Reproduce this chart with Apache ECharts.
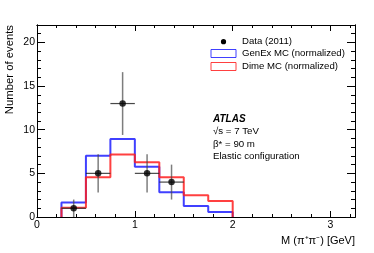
<!DOCTYPE html>
<html>
<head>
<meta charset="utf-8">
<script src="https://cdn.jsdelivr.net/npm/echarts@6/dist/echarts.min.js"></script>
<style>html,body{margin:0;padding:0;background:#fff}#c{width:374px;height:253px}</style>
</head>
<body>
<div id="c"></div>
<script>
// ---- data ----
const binEdges = [0.25, 0.5, 0.75, 1.0, 1.25, 1.5, 1.75, 2.0];
const genexValues = [1.65, 7.03, 8.94, 5.77, 2.83, 1.26, 0.57];
const dimeValues = [1.07, 4.55, 7.15, 6.27, 4.55, 2.5, 1.83];
const dataX = [0.375, 0.625, 0.875, 1.125, 1.375];
const dataY = [1, 5, 13, 5, 4];
const dataErrY = [1.0, 2.2, 3.6, 2.2, 2.0];
const dataErrX = [0.125, 0.125, 0.125, 0.125, 0.125];
const xTickLabels = ['0', '1', '2', '3'];
const yTickLabels = ['0', '5', '10', '15', '20'];

function stepPoints(edges, vals) {
  const pts = [[edges[0], 0]];
  for (let i = 0; i < vals.length; i++) {
    pts.push([edges[i], vals[i]], [edges[i + 1], vals[i]]);
  }
  pts.push([edges[edges.length - 1], 0]);
  return pts;
}

const FONT = 'Liberation Sans';
const X_MIN = 0, X_MAX = 3.25, Y_MIN = 0, Y_MAX = 22;

function xAx(pos, interval, len, labels) {
  return {
    type: 'value', position: pos, min: X_MIN, max: X_MAX, interval: interval,
    axisLine: { show: true, onZero: false, lineStyle: { color: '#000', width: 1 } },
    axisTick: { show: true, inside: true, length: len, lineStyle: { color: '#000', width: 1 } },
    axisLabel: labels ? {
      show: true, margin: 3, color: '#000', fontFamily: FONT, fontSize: 10.5,
      formatter: v => xTickLabels.includes(String(v)) ? String(v) : ''
    } : { show: false },
    splitLine: { show: false }
  };
}
function yAx(pos, interval, len, labels) {
  return {
    type: 'value', position: pos, min: Y_MIN, max: Y_MAX, interval: interval,
    axisLine: { show: true, onZero: false, lineStyle: { color: '#000', width: 1 } },
    axisTick: { show: true, inside: true, length: len, lineStyle: { color: '#000', width: 1 } },
    axisLabel: labels ? {
      show: true, margin: 2, color: '#000', fontFamily: FONT, fontSize: 10.5,
      formatter: v => yTickLabels.includes(String(v)) ? String(v) : ''
    } : { show: false },
    splitLine: { show: false }
  };
}

const chart = echarts.init(document.getElementById('c'), null, { renderer: 'canvas' });
chart.setOption({
  animation: false,
  backgroundColor: '#fff',
  grid: { left: 37, right: 19, top: 25, bottom: 36 },
  xAxis: [
    xAx('bottom', 1, 6, true),
    xAx('bottom', 0.2, 3, false),
    xAx('top', 1, 6, false),
    xAx('top', 0.2, 3, false)
  ],
  yAxis: [
    yAx('left', 5, 8, true),
    yAx('left', 1, 4, false),
    yAx('right', 5, 8, false),
    yAx('right', 1, 4, false)
  ],
  series: [
    {
      name: 'GenEx MC (normalized)', type: 'line', xAxisIndex: 0, yAxisIndex: 0,
      data: stepPoints(binEdges, genexValues), symbol: 'none',
      lineStyle: { color: 'rgba(30,30,255,0.85)', width: 2 }, z: 2
    },
    {
      name: 'Dime MC (normalized)', type: 'line', xAxisIndex: 0, yAxisIndex: 0,
      data: stepPoints(binEdges, dimeValues), symbol: 'none',
      lineStyle: { color: 'rgba(255,30,30,0.85)', width: 2 }, z: 3
    },
    {
      name: 'errors', type: 'custom', xAxisIndex: 0, yAxisIndex: 0, z: 4,
      data: dataX.map((x, i) => [x, dataY[i], dataErrX[i], dataErrY[i]]),
      renderItem: function (params, api) {
        const x = api.value(0), y = api.value(1), ex = api.value(2), ey = api.value(3);
        const l = api.coord([x - ex, y]), r = api.coord([x + ex, y]);
        const t = api.coord([x, y + ey]), b = api.coord([x, y - ey]);
        return {
          type: 'group', children: [
            { type: 'line', shape: { x1: l[0], y1: l[1], x2: r[0], y2: r[1] }, style: { stroke: 'rgba(40,40,40,0.85)', lineWidth: 1.2 } },
            { type: 'line', shape: { x1: t[0], y1: t[1], x2: b[0], y2: b[1] }, style: { stroke: 'rgba(70,70,70,0.7)', lineWidth: 1.5 } }
          ]
        };
      }
    },
    {
      name: 'Data (2011)', type: 'scatter', xAxisIndex: 0, yAxisIndex: 0, z: 5,
      data: dataX.map((x, i) => [x, dataY[i]]),
      symbol: 'circle', symbolSize: 6.5, itemStyle: { color: '#000' }
    }
  ],
  graphic: [
    // axis titles
    { type: 'text', x: 10, y: 25, rotation: Math.PI / 2,
      style: { text: 'Number of events', font: '11.3px "Liberation Sans"', fill: '#000', align: 'right', verticalAlign: 'middle' } },
    { type: 'text', x: 355, y: 241,
      style: { text: 'M (π\u207Aπ\u207B) [GeV]', font: '11px "Liberation Sans"', fill: '#000', align: 'right', verticalAlign: 'middle' } },
    // legend
    { type: 'circle', shape: { cx: 223.5, cy: 41.7, r: 2.6 }, style: { fill: '#000' } },
    { type: 'text', x: 242, y: 41.7, style: { text: 'Data (2011)', font: '9.6px "Liberation Sans"', fill: '#000', verticalAlign: 'middle' } },
    { type: 'rect', shape: { x: 211, y: 49.5, width: 25, height: 8 }, style: { fill: 'none', stroke: 'rgba(30,30,255,0.85)', lineWidth: 1 } },
    { type: 'text', x: 242, y: 53, style: { text: 'GenEx MC (normalized)', font: '9.6px "Liberation Sans"', fill: '#000', verticalAlign: 'middle' } },
    { type: 'rect', shape: { x: 211, y: 62.5, width: 25, height: 8 }, style: { fill: 'none', stroke: 'rgba(255,30,30,0.85)', lineWidth: 1 } },
    { type: 'text', x: 242, y: 66, style: { text: 'Dime MC (normalized)', font: '9.6px "Liberation Sans"', fill: '#000', verticalAlign: 'middle' } },
    // annotations
    { type: 'text', x: 213, y: 119, style: { text: 'ATLAS', font: 'italic bold 10px "Liberation Sans"', fill: '#000', verticalAlign: 'middle' } },
    { type: 'text', x: 213, y: 131.5, style: { text: '√s = 7 TeV', font: '9.7px "Liberation Sans"', fill: '#000', verticalAlign: 'middle' } },
    { type: 'text', x: 213, y: 144, style: { text: 'β* = 90 m', font: '9.7px "Liberation Sans"', fill: '#000', verticalAlign: 'middle' } },
    { type: 'text', x: 213, y: 156.5, style: { text: 'Elastic configuration', font: '9.7px "Liberation Sans"', fill: '#000', verticalAlign: 'middle' } }
  ]
});
</script>
</body>
</html>
